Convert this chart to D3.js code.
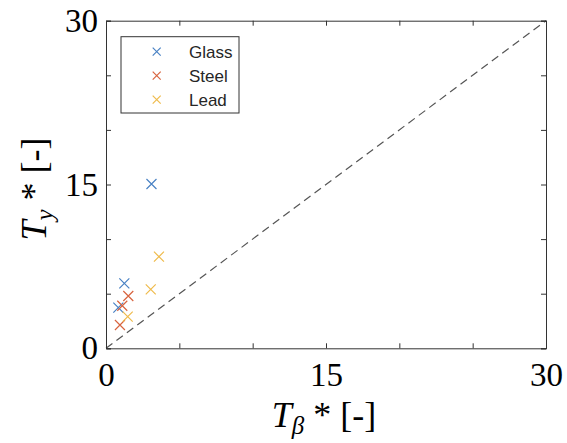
<!DOCTYPE html>
<html>
<head>
<meta charset="utf-8">
<script src="https://cdn.jsdelivr.net/npm/d3@7"></script>
<style>
  body { margin: 0; background: #fff; }
  svg { display: block; }
</style>
</head>
<body>
<div id="chart"></div>
<script>
var seriesNames = ["Glass", "Steel", "Lead"];
var seriesColors = ["#4a82c4", "#d8643f", "#efbb4c"];
var glassX = [3.1, 1.25, 0.84];
var glassY = [15.05, 5.95, 3.72];
var steelX = [1.52, 1.11, 0.95];
var steelY = [4.79, 3.9, 2.13];
var leadX = [3.61, 3.05, 1.48];
var leadY = [8.39, 5.4, 2.9];
var tickValues = [0, 5, 10, 15, 20, 25, 30];
var tickLabels = ["0", "", "", "15", "", "", "30"];

var width = 567, height = 443;
var plotLeft = 106, plotRight = 546, plotTop = 20.7, plotBottom = 348.3;

var svg = d3.select("#chart").append("svg")
    .attr("width", width).attr("height", height);

var x = d3.scaleLinear().domain([0, 30]).range([plotLeft, plotRight]);
var y = d3.scaleLinear().domain([0, 30]).range([plotBottom, plotTop]);

var series = [
    { name: seriesNames[0], color: seriesColors[0], xs: glassX, ys: glassY },
    { name: seriesNames[1], color: seriesColors[1], xs: steelX, ys: steelY },
    { name: seriesNames[2], color: seriesColors[2], xs: leadX, ys: leadY }
];

// identity line
svg.append("line")
    .attr("x1", x(0)).attr("y1", y(0))
    .attr("x2", x(30)).attr("y2", y(30))
    .attr("stroke", "#555").attr("stroke-width", 1.2)
    .attr("stroke-dasharray", "8,5");

function cross(g, cx, cy, r, color) {
    g.append("path")
        .attr("d", "M" + (cx - r) + "," + (cy - r) + "L" + (cx + r) + "," + (cy + r) +
                   "M" + (cx - r) + "," + (cy + r) + "L" + (cx + r) + "," + (cy - r))
        .attr("stroke", color).attr("stroke-width", 1.2).attr("fill", "none");
}

var marks = svg.append("g");
series.forEach(function (s) {
    s.xs.forEach(function (v, i) {
        cross(marks, x(v), y(s.ys[i]), 5, s.color);
    });
});

// axes with inward ticks on all sides
var tickFmt = function (d, i) { return tickLabels[i]; };
svg.append("g").attr("transform", "translate(0," + plotBottom + ")")
    .call(d3.axisBottom(x).tickValues(tickValues).tickSize(-5).tickPadding(14).tickFormat(tickFmt));
svg.append("g").attr("transform", "translate(" + plotLeft + ",0)")
    .call(d3.axisLeft(y).tickValues(tickValues).tickSize(-5).tickPadding(8).tickFormat(tickFmt));
svg.append("g").attr("transform", "translate(0," + plotTop + ")")
    .call(d3.axisTop(x).tickValues(tickValues).tickSize(-5).tickFormat(""));
svg.append("g").attr("transform", "translate(" + plotRight + ",0)")
    .call(d3.axisRight(y).tickValues(tickValues).tickSize(-5).tickFormat(""));

svg.selectAll(".domain").attr("stroke", "#333");
svg.selectAll(".tick line").attr("stroke", "#333");
svg.selectAll(".tick text")
    .attr("font-family", "'Liberation Serif', 'Times New Roman', serif")
    .attr("font-size", 33).attr("fill", "#000");

// axis titles
var serif = "'Liberation Serif', 'Times New Roman', serif";
var xt = svg.append("text")
    .attr("x", 324).attr("y", 427)
    .attr("text-anchor", "middle")
    .attr("font-family", serif).attr("font-size", 36);
xt.append("tspan").attr("font-style", "italic").text("T");
xt.append("tspan").attr("font-style", "italic").attr("font-size", 25).attr("dy", 7).text("β");
xt.append("tspan").attr("dy", -7).text(" * [-]");

var yt = svg.append("text")
    .attr("transform", "translate(46,189) rotate(-90)")
    .attr("text-anchor", "middle")
    .attr("font-family", serif).attr("font-size", 36);
yt.append("tspan").attr("font-style", "italic").text("T");
yt.append("tspan").attr("font-style", "italic").attr("font-size", 25).attr("dy", 7).text("y");
yt.append("tspan").attr("dy", -7).text(" * [-]");

// legend
var lg = svg.append("g");
lg.append("rect")
    .attr("x", 121).attr("y", 36.7).attr("width", 118).attr("height", 76.3)
    .attr("fill", "#fff").attr("stroke", "#333").attr("stroke-width", 1);
series.forEach(function (s, i) {
    var ly = 51.7 + i * 24;
    cross(lg, 156.7, ly, 4, s.color);
    lg.append("text")
        .attr("x", 189).attr("y", ly + 6)
        .attr("font-family", "'Liberation Sans', Arial, sans-serif")
        .attr("font-size", 17).attr("fill", "#262626")
        .text(s.name);
});
</script>
</body>
</html>
